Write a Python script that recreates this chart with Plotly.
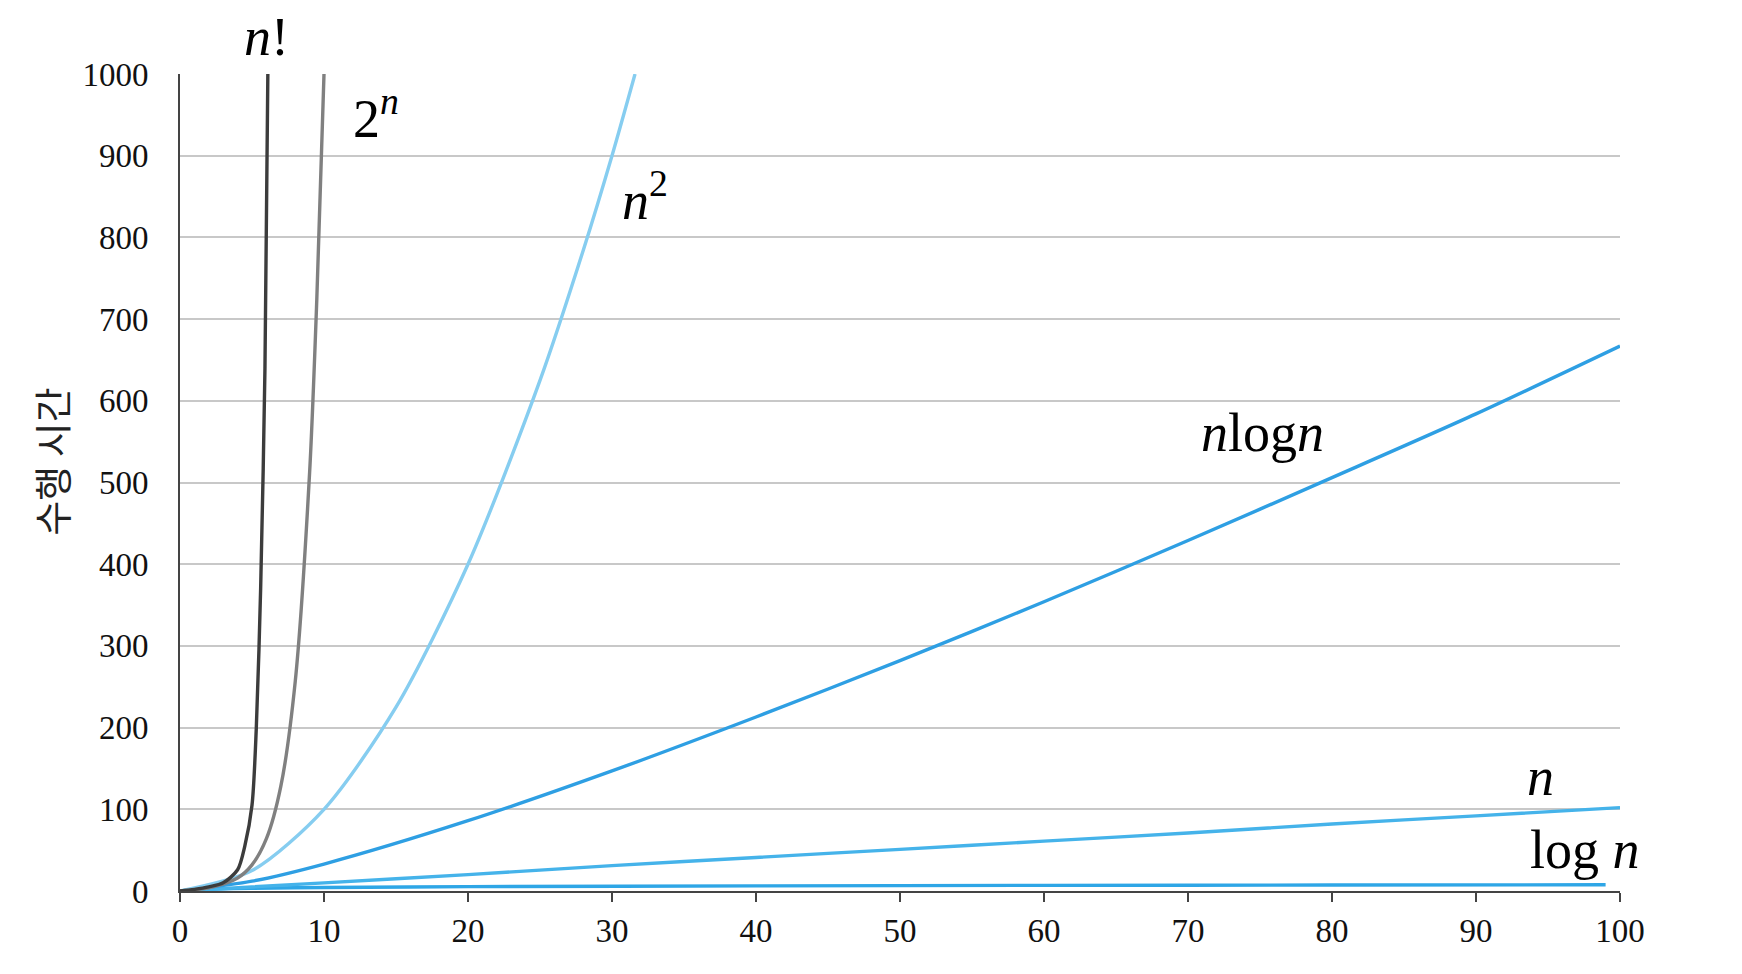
import plotly.graph_objects as go

# ---- data ----
fact_x = [0, 1, 2, 3, 4, 4.5, 5, 5.3, 5.6, 5.9, 6.1]
fact_y = [0, 2, 5, 10, 26, 55, 105, 200, 370, 640, 1000]

exp_x = [0, 2, 4, 5, 6, 7, 8, 9, 9.5, 10]
exp_y = [0, 4, 16, 32, 64, 128, 256, 512, 724, 1000]

sq_x = [0, 5, 10, 15, 20, 25, 28, 30, 31.6]
sq_y = [0, 25, 100, 225, 400, 625, 784, 900, 1000]

nlog_x = [0, 5, 10, 20, 30, 40, 50, 60, 70, 80, 90, 100]
nlog_y = [0, 12, 33, 86, 147, 213, 282, 354, 429, 506, 584, 667]

lin_x = [0, 10, 20, 30, 40, 50, 60, 70, 80, 90, 100]
lin_y = [0, 10, 20, 31, 41, 51, 61, 71, 82, 92, 102]

log_x = [0, 1, 2, 5, 10, 20, 40, 60, 80, 99]
log_y = [0, 1, 2, 3.3, 4.3, 5.3, 6.3, 6.9, 7.3, 7.6]

x_ticks = [0, 10, 20, 30, 40, 50, 60, 70, 80, 90, 100]
y_ticks = [0, 100, 200, 300, 400, 500, 600, 700, 800, 900, 1000]
y_title = "수행 시간"

# label text, x (data), y (fraction of the y range; may exceed 1)
labels = [
    ("<i>n</i>!", 6.0, 1.045),
    ("2<sup><i>n</i></sup>", 13.6, 0.95),
    ("<i>n</i><sup>2</sup>", 32.3, 0.85),
    ("<i>n</i>log<i>n</i>", 75.2, 0.561),
    ("<i>n</i>", 94.5, 0.14),
    ("log <i>n</i>", 97.6, 0.05),
]

series = [
    (log_x, log_y, "#2ea6e6"),
    (lin_x, lin_y, "#45b3ea"),
    (nlog_x, nlog_y, "#2e9fe3"),
    (sq_x, sq_y, "#86cdf0"),
    (exp_x, exp_y, "#808080"),
    (fact_x, fact_y, "#3c3c3c"),
]

fig = go.Figure()
for xs, ys, col in series:
    fig.add_trace(go.Scatter(x=xs, y=ys, mode="lines",
                             line=dict(color=col, width=3.4, shape="spline", smoothing=0.8),
                             showlegend=False, hoverinfo="skip"))

for txt, lx, ly in labels:
    fig.add_annotation(x=lx, y=ly, xref="x", yref="paper", text=txt, showarrow=False,
                       font=dict(family="Liberation Serif", size=54, color="black"),
                       xanchor="center", yanchor="middle")

fig.add_annotation(x=-0.09, y=0.526, xref="paper", yref="paper", text=y_title,
                   showarrow=False, textangle=-90,
                   font=dict(family="Noto Sans CJK KR", size=38, color="#222222"),
                   xanchor="center", yanchor="middle")

fig.update_layout(
    width=1742, height=974,
    margin=dict(l=172, r=130, t=66, b=91),
    paper_bgcolor="white", plot_bgcolor="white",
    xaxis=dict(range=[0, 100], tickvals=x_ticks, ticktext=[str(v) for v in x_ticks],
               showgrid=False, zeroline=False,
               showline=True, linecolor="#444444", linewidth=2,
               ticks="outside", ticklen=9, tickwidth=2, tickcolor="#444444",
               tickfont=dict(family="Liberation Serif", size=33, color="#111111")),
    yaxis=dict(range=[0, 1000], tickvals=y_ticks, ticktext=[str(v) for v in y_ticks],
               showgrid=True, gridcolor="#c8c8c8", gridwidth=2, zeroline=False,
               showline=True, linecolor="#444444", linewidth=2,
               ticks="", ticklabelstandoff=23,
               tickfont=dict(family="Liberation Serif", size=33, color="#111111")),
)

fig.write_html("out.html")
